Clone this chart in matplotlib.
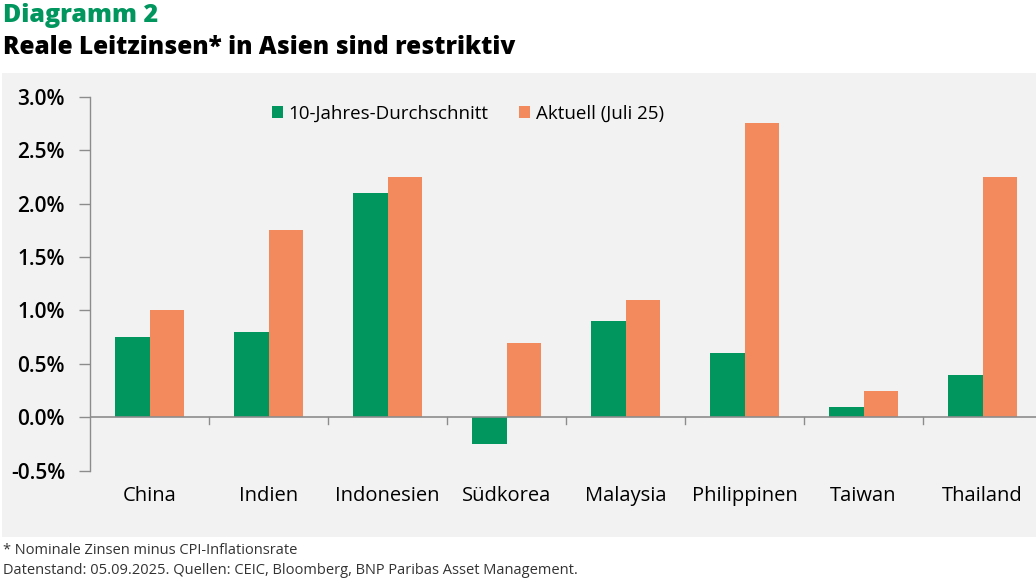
import matplotlib
matplotlib.use("Agg")
import matplotlib.pyplot as plt
import numpy as np
from matplotlib.patches import Rectangle

plt.rcParams["font.family"] = ["Open Sans", "DejaVu Sans"]

GREEN = "#00965e"
ORANGE = "#f28a5e"
BG = "#f2f2f2"
AXIS = "#8c8c8c"

countries = ["China", "Indien", "Indonesien", "Südkorea", "Malaysia",
             "Philippinen", "Taiwan", "Thailand"]
avg_10y = [0.75, 0.80, 2.10, -0.25, 0.90, 0.60, 0.10, 0.40]
current = [1.00, 1.75, 2.25, 0.70, 1.10, 2.75, 0.25, 2.25]
yticks = [-0.5, 0.0, 0.5, 1.0, 1.5, 2.0, 2.5, 3.0]

fig = plt.figure(figsize=(10.36, 5.83), dpi=100)
fig.patch.set_facecolor("white")

# grey panel behind the chart
panel = Rectangle((2 / 1036, 1 - 537 / 583), 1034 / 1036, 464 / 583,
                  transform=fig.transFigure, facecolor=BG, edgecolor="none")
fig.add_artist(panel)
panel.set_zorder(-5)

ax = fig.add_axes([90 / 1036, 1 - 470.8 / 583, 952 / 1036, (470.8 - 96.7) / 583])
ax.set_facecolor("none")
ax.set_zorder(1)

x = np.arange(len(countries))
w = 0.286
ax.bar(x - w / 2, avg_10y, w, color=GREEN, label="10-Jahres-Durchschnitt", zorder=3)
ax.bar(x + w / 2, current, w, color=ORANGE, label="Aktuell (Juli 25)", zorder=3)

ax.set_xlim(-0.5, len(countries) - 0.5)
ax.set_ylim(-0.5, 3.0)
ax.set_yticks(yticks)
ax.set_yticklabels([f"{v:.1f}%" for v in yticks], fontsize=15, fontweight="semibold")
ax.tick_params(axis="y", length=8, width=1, color=AXIS, pad=10)

# category labels at centres, small ticks at the boundaries on the zero line
ax.set_xticks(x)
ax.set_xticklabels(countries, fontsize=14.5)
ax.tick_params(axis="x", length=0, pad=11)
for b in np.arange(0.5, len(countries) - 0.5, 1.0):
    ax.plot([b, b], [0, -0.065], color=AXIS, lw=1, zorder=2, clip_on=False)
ax.axhline(0, color=AXIS, lw=1.2, zorder=4)

for s in ["top", "right", "bottom"]:
    ax.spines[s].set_visible(False)
ax.spines["left"].set_color(AXIS)
ax.spines["left"].set_linewidth(1)

ax.legend(loc="upper left", bbox_to_anchor=(0.191, 0.978), ncol=2, frameon=False,
          fontsize=13.5, handlelength=0.6, handleheight=0.6, handletextpad=0.3,
          columnspacing=1.6, borderpad=0, borderaxespad=0)

fig.text(3 / 1036, 1 - 16 / 583, "Diagramm 2", color=GREEN, fontsize=18,
         fontweight="heavy", va="center", ha="left")
fig.text(3 / 1036, 1 - 47 / 583, "Reale Leitzinsen* in Asien sind restriktiv",
         color="black", fontsize=17.6, fontweight="heavy", va="center", ha="left")
fig.text(3 / 1036, 1 - 551 / 583, "* Nominale Zinsen minus CPI-Inflationsrate",
         color="#333333", fontsize=10.5, va="center", ha="left")
fig.text(3 / 1036, 1 - 571 / 583,
         "Datenstand: 05.09.2025. Quellen: CEIC, Bloomberg, BNP Paribas Asset Management.",
         color="#333333", fontsize=10.5, va="center", ha="left")

fig.savefig("out.png", dpi=100, facecolor="white")
